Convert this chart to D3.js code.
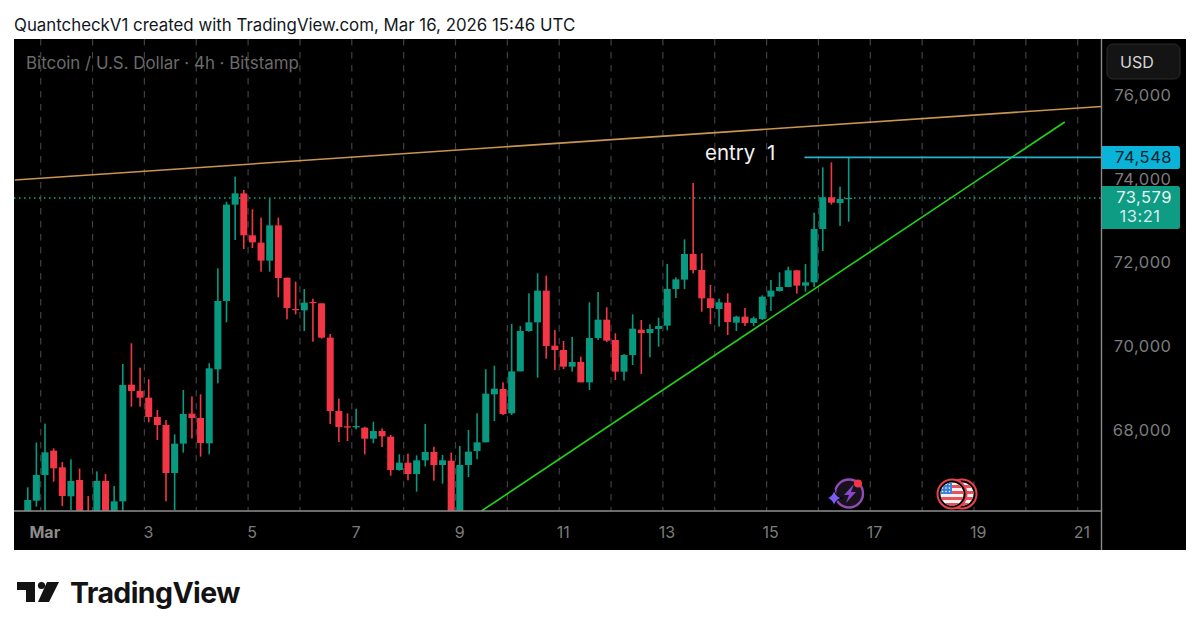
<!DOCTYPE html>
<html>
<head>
<meta charset="utf-8">
<script src="https://cdn.jsdelivr.net/npm/d3@7"></script>
<style>
    html, body { margin: 0; padding: 0; background: #fff; }
    svg { display: block; font-family: Inter, "Liberation Sans", sans-serif; }
</style>
</head>
<body>
<svg id="chart" width="1200" height="635"></svg>
<script>
// 4h bars. Bars cut by the bottom of the pane get a guessed end
const firstBar = "2026-02-28T18:00:00Z";
const barHours = 4;

const opens = [65950,66347,66960,67542,67144,66451,66841,65950,65800,66817,65950,66331,69119,68968,68808,68346,68155,67008,67709,68426,
    68322,67717,69485,71118,73420,73690,72687,72512,72082,72926,71675,70927,70895,71094,71062,70242,68489,68123,68099,68091,
    67828,68011,67876,67080,67255,66984,67311,67510,67199,67303,65800,67199,67534,67741,68888,69015,68434,69437,70401,70608,
    71365,70050,69947,69549,69660,69174,70234,70672,70186,69429,69827,70433,70353,70449,70528,71405,71628,72241,71859,71182,
    70927,71078,70600,70744,70592,70688,71221,71357,71452,71851,71484,71564,72838,73595,73460,73555];
const highs = [66666,67733,68187,67598,67271,67335,67112,66459,67048,66984,66698,69613,70107,69525,69246,68514,68275,67932,68992,68840,
    68888,69629,71898,73491,74089,73770,73308,73109,73571,73109,71675,71580,71405,71173,71062,70329,68784,68434,68545,68115,
    68234,68075,67916,67454,67470,67430,68179,67637,67438,67494,67653,68035,68434,69485,69572,69174,70568,70520,71301,71779,
    71723,70425,70162,70258,69788,71086,71333,70966,70345,69851,70799,70664,70560,70720,72002,71683,72591,73938,72257,71500,
    71174,71301,70767,70951,70744,71253,71620,71803,71938,71851,72002,73229,74312,74431,73850,74548];
const lows = [65800,66204,65900,66801,66220,66124,65800,65600,65700,65800,65700,66000,68593,68593,68219,67797,66331,66124,67494,67829,
    67399,67454,69150,70608,72575,72360,72384,71819,71819,71205,70680,70799,70401,70146,70218,68179,67749,67772,68051,67454,
    67717,67629,66944,67064,66833,66562,67167,66825,66753,65600,65700,66912,67334,67741,68250,68394,68394,69437,70385,69286,
    69740,69469,69493,69429,69174,68991,70186,70138,69230,69214,69588,69373,69772,70027,70417,71190,71405,71779,70863,70568,
    70505,70305,70401,70521,70521,70664,70879,71341,71452,71293,71341,71452,72313,73420,72910,73014];
const closes = [66363,66960,67502,67120,66459,66817,65900,65700,66817,65900,66331,69111,68968,68808,68346,68155,67008,67709,68418,68322,
    67725,69509,71118,73420,73690,72687,72520,72082,72926,71667,70950,70903,71078,71070,70242,68489,68107,68099,68131,67828,
    68011,67884,67080,67255,66984,67311,67510,67199,67311,65800,67199,67518,67741,68904,69023,68418,69437,70401,70608,71365,
    70042,69947,69549,69660,69174,70234,70672,70170,69429,69827,70457,70353,70449,70520,71405,71635,72241,71859,71182,70951,
    71086,70616,70744,70592,70704,71221,71365,71452,71851,71484,71564,72838,73595,73468,73555,73579];

const priceTicks = [68000, 70000, 72000, 74000, 76000];
const dayTicks = ["2026-03-01", "2026-03-03", "2026-03-05", "2026-03-07", "2026-03-09", "2026-03-11",
    "2026-03-13", "2026-03-15", "2026-03-17", "2026-03-19", "2026-03-21"];
const dayLabels = ["Mar", "3", "5", "7", "9", "11", "13", "15", "17", "19", "21"];

// drawings on the chart: [time, price]
const resistanceLine = [["2026-02-28T12:00:00Z", 74009], ["2026-03-21T11:00:00Z", 75765]];
const supportLine = [["2026-03-09T12:00:00Z", 66100], ["2026-03-20T18:00:00Z", 75395]];
const entryLine = [["2026-03-15T17:30:00Z", 74548], ["2026-03-21T11:00:00Z", 74548]];
const lastPrice = 73579;
const entryPrice = 74548;

const upColor = "#089981";
const downColor = "#f23645";

const svg = d3.select("svg#chart");
const paneLeft = 14, paneRight = 1101.5, paneTop = 39, paneBottom = 511, panelRight = 1186, panelBottom = 550;

// page furniture
svg.append("text").attr("x", 14).attr("y", 31)
    .attr("font-size", 16.85).attr("fill", "#131722")
    .text("QuantcheckV1 created with TradingView.com, Mar 16, 2026 15:46 UTC");
svg.append("rect").attr("x", paneLeft).attr("y", paneTop)
    .attr("width", panelRight - paneLeft).attr("height", panelBottom - paneTop).attr("fill", "#000");

// Scales
const x = d3.scaleUtc()
    .domain([new Date("2026-03-01T00:00:00Z"), new Date("2026-03-21T00:00:00Z")])
    .range([40.7, 1077.7]);
const y = d3.scaleLinear()
    .domain([66100, 77378])
    .range([paneBottom, paneTop]);

const barTime = i => new Date(+new Date(firstBar) + i * barHours * 3600e3);
const barStep = x(barTime(1)) - x(barTime(0));
const bodyWidth = barStep * 0.81;

svg.append("clipPath").attr("id", "pane").append("rect")
    .attr("x", paneLeft).attr("y", paneTop).attr("width", paneRight - paneLeft).attr("height", paneBottom - paneTop);
const pane = svg.append("g").attr("clip-path", "url(#pane)");

// daily grid
pane.append("g").selectAll("line")
    .data(d3.utcDay.range(new Date("2026-03-01T00:00:00Z"), new Date("2026-03-21T12:00:00Z")))
    .enter().append("line")
    .attr("x1", d => x(d)).attr("x2", d => x(d))
    .attr("y1", paneTop).attr("y2", paneBottom)
    .attr("stroke", "#404040").attr("stroke-width", 1.2)
    .attr("stroke-dasharray", "6.5 6.5");

// last price line
pane.append("line")
    .attr("x1", paneLeft).attr("x2", paneRight)
    .attr("y1", y(lastPrice)).attr("y2", y(lastPrice))
    .attr("stroke", "#12a58c").attr("stroke-width", 1.5)
    .attr("stroke-dasharray", "1.5 3.5");

// candles
const candles = pane.append("g").selectAll("g")
    .data(opens.map((o, i) => ({o, h: highs[i], l: lows[i], c: closes[i], t: barTime(i)})))
    .enter().append("g")
    .attr("fill", d => d.c >= d.o ? upColor : downColor);
candles.append("rect")
    .attr("x", d => x(d.t) - 0.8).attr("width", 1.6)
    .attr("y", d => y(d.h)).attr("height", d => y(d.l) - y(d.h));
candles.append("rect")
    .attr("x", d => x(d.t) - bodyWidth / 2).attr("width", bodyWidth)
    .attr("y", d => y(Math.max(d.o, d.c)))
    .attr("height", d => Math.max(1.2, Math.abs(y(d.o) - y(d.c))));

// Trend lines
const line = d3.line().x(d => x(new Date(d[0]))).y(d => y(d[1]));
pane.append("path").attr("d", line(resistanceLine))
    .attr("fill", "none").attr("stroke", "#c9964f").attr("stroke-width", 1.6);
pane.append("path").attr("d", line(supportLine))
    .attr("fill", "none").attr("stroke", "#22d41c").attr("stroke-width", 1.6);
pane.append("path").attr("d", line(entryLine))
    .attr("fill", "none").attr("stroke", "#27b3cc").attr("stroke-width", 1.7);

svg.append("text").attr("x", 705).attr("y", 160)
    .attr("font-size", 20.5).attr("fill", "#f2f2f2")
    .attr("word-spacing", 6).text("entry 1");

svg.append("text").attr("x", 26).attr("y", 69)
    .attr("font-size", 16.9).attr("fill", "#6b6b6b")
    .text("Bitcoin / U.S. Dollar · 4h · Bitstamp");

// Axes
const xAxis = d3.axisBottom(x)
    .tickValues(dayTicks.map(d => new Date(d + "T00:00:00Z")))
    .tickFormat((d, i) => dayLabels[i])
    .tickSize(0).tickPadding(0);
const xAxisG = svg.append("g").attr("transform", `translate(0,${paneBottom})`).call(xAxis);
xAxisG.select(".domain").remove();
xAxisG.selectAll("text")
    .attr("dx", 3.6).attr("y", 21).attr("dy", "0.36em")
    .attr("font-size", 16).attr("font-family", "Inter, sans-serif")
    .attr("fill", (d, i) => i === 0 ? "#8c8c8c" : "#7c7c7c")
    .attr("font-weight", (d, i) => i === 0 ? 700 : 400);

const yAxis = d3.axisRight(y)
    .tickValues(priceTicks)
    .tickFormat(d3.format(","))
    .tickSize(0).tickPadding(0);
const yAxisG = svg.append("g").attr("transform", `translate(${paneRight},0)`).call(yAxis);
yAxisG.select(".domain").remove();
yAxisG.selectAll("text")
    .attr("x", 70).attr("dy", "0.32em").attr("text-anchor", "end")
    .attr("transform", "translate(0,-1.5)")
    .attr("font-size", 16.5).attr("letter-spacing", 0.5)
    .attr("font-family", "Inter, sans-serif").attr("fill", "#7c7c7c");

// pane borders
svg.append("line").attr("x1", paneLeft).attr("x2", paneRight).attr("y1", paneBottom).attr("y2", paneBottom)
    .attr("stroke", "#8f8f8f").attr("stroke-width", 1.4);
svg.append("line").attr("x1", paneRight).attr("x2", paneRight).attr("y1", paneTop).attr("y2", panelBottom)
    .attr("stroke", "#8a8a8a").attr("stroke-width", 1.4);

// USD button
svg.append("rect").attr("x", 1107).attr("y", 44).attr("width", 73).attr("height", 35).attr("rx", 6)
    .attr("fill", "#141414").attr("stroke", "#2b2b2b");
svg.append("text").attr("x", 1120).attr("y", 68)
    .attr("font-size", 16).attr("fill", "#d6d6d6").text("USD");

// price labels
svg.append("path")
    .attr("d", "M1102 146H1177.5a2.5 2.5 0 0 1 2.5 2.5V166.5a2.5 2.5 0 0 1-2.5 2.5H1102Z")
    .attr("fill", "#0ab4d8");
svg.append("text").attr("x", 1172).attr("y", y(entryPrice) + 5.5).attr("text-anchor", "end")
    .attr("font-size", 16.5).attr("letter-spacing", 0.5).attr("fill", "#06222c").text(d3.format(",")(entryPrice));
svg.append("path")
    .attr("d", "M1102 186H1177.5a2.5 2.5 0 0 1 2.5 2.5V226.5a2.5 2.5 0 0 1-2.5 2.5H1102Z")
    .attr("fill", "#0e9c84");
svg.append("text").attr("x", 1172).attr("y", 203).attr("text-anchor", "end")
    .attr("font-size", 16.5).attr("letter-spacing", 0.5).attr("fill", "#e8f5f2").text(d3.format(",")(lastPrice));
svg.append("text").attr("x", 1160.5).attr("y", 222).attr("text-anchor", "end")
    .attr("font-size", 16.5).attr("letter-spacing", 0.5).attr("fill", "#d5eeea").text("13:21");

// event icons
const bolt = svg.append("g");
bolt.append("circle").attr("cx", 849).attr("cy", 493.5).attr("r", 14)
    .attr("fill", "#17121c").attr("stroke", "#8e4bb4").attr("stroke-width", 2.4);
bolt.append("path").attr("d", "M854 484L844 495H849L846 503L856 492H851Z").attr("fill", "#8a46c8");
bolt.append("path").attr("d", "M834 489Q835 497 842.5 498Q835 499 834 507Q833 499 826 498Q833 497 834 489Z")
    .attr("fill", "#7a5cf5").attr("stroke", "#000").attr("stroke-width", 1);
bolt.append("circle").attr("cx", 858).attr("cy", 483.5).attr("r", 4).attr("fill", "#f23645");

const flag = (cx, g) => {
    g.append("circle").attr("cx", cx).attr("cy", 494).attr("r", 14.5)
        .attr("fill", "#000").attr("stroke", "#e8434c").attr("stroke-width", 2);
    g.append("clipPath").attr("id", "flag" + cx).append("circle")
        .attr("cx", cx).attr("cy", 494).attr("r", 11.5);
    const f = g.append("g").attr("clip-path", `url(#flag${cx})`);
    f.append("rect").attr("x", cx - 12).attr("y", 482).attr("width", 24).attr("height", 24).attr("fill", "#f3f3f3");
    d3.range(0, 4).forEach(k => f.append("rect").attr("x", cx - 12).attr("y", 485 + k * 6)
        .attr("width", 24).attr("height", 3).attr("fill", "#e8505a"));
    f.append("rect").attr("x", cx - 12).attr("y", 482).attr("width", 12).attr("height", 12).attr("fill", "#3b7fd6");
    d3.range(0, 3).forEach(a => d3.range(0, 3).forEach(b =>
        f.append("circle").attr("cx", cx - 9.5 + a * 3.5).attr("cy", 484.5 + b * 3.5)
            .attr("r", 0.8).attr("fill", "#fff")));
};
flag(962, svg.append("g"));
flag(952, svg.append("g"));

// TradingView logo
const logo = svg.append("g").attr("fill", "#131313");
logo.append("path").attr("d", "M17 582H35V602H26V590H17Z");
logo.append("circle").attr("cx", 41.5).attr("cy", 585.5).attr("r", 3.6);
logo.append("path").attr("d", "M47 582H59L49 602H38Z");
svg.append("text").attr("x", 70).attr("y", 603)
    .attr("font-size", 28.5).attr("font-weight", 700).attr("letter-spacing", -0.6)
    .attr("fill", "#131313").text("TradingView");
</script>
</body>
</html>
